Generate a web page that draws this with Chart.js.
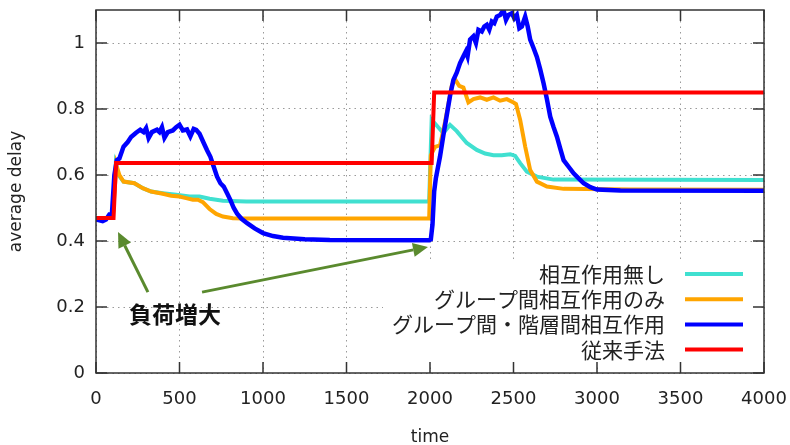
<!DOCTYPE html>
<html>
<head>
<meta charset="utf-8">
<script src="https://cdn.jsdelivr.net/npm/chart.js@4.4.1/dist/chart.umd.min.js"></script>
<style>
  html, body { margin: 0; padding: 0; background: #fff; }
</style>
</head>
<body>
<canvas id="chart" width="790" height="445"></canvas>
<script>
// series names (legend order)
const seriesNames = ['相互作用無し', 'グループ間相互作用のみ', 'グループ間・階層間相互作用', '従来手法'];

// 相互作用無し
const cyanT = [0, 100, 118, 135, 165, 230, 280, 330, 400, 480, 560, 620, 680, 760, 900, 1995, 2010, 2040, 2080, 2120, 2160, 2220, 2280, 2330, 2380, 2430, 2480, 2510, 2540, 2580, 2640, 2740, 4000];
const cyanV = [0.47, 0.47, 0.63, 0.60, 0.58, 0.575, 0.56, 0.55, 0.545, 0.54, 0.535, 0.535, 0.528, 0.522, 0.52, 0.52, 0.767, 0.75, 0.727, 0.752, 0.733, 0.697, 0.676, 0.665, 0.66, 0.66, 0.663, 0.658, 0.636, 0.61, 0.595, 0.586, 0.585];

// グループ間相互作用のみ
const orangeT = [0, 100, 122, 140, 165, 230, 280, 330, 400, 450, 500, 540, 580, 610, 640, 680, 720, 760, 820, 900, 1995, 2005, 2030, 2060, 2090, 2130, 2150, 2175, 2200, 2230, 2260, 2300, 2340, 2380, 2420, 2460, 2500, 2515, 2540, 2570, 2600, 2640, 2700, 2800, 3200, 4000];
const orangeV = [0.47, 0.47, 0.63, 0.60, 0.58, 0.575, 0.56, 0.55, 0.543, 0.537, 0.535, 0.53, 0.525, 0.525, 0.518, 0.497, 0.482, 0.474, 0.469, 0.468, 0.468, 0.66, 0.685, 0.69, 0.76, 0.87, 0.89, 0.87, 0.865, 0.82, 0.83, 0.835, 0.828, 0.835, 0.825, 0.83, 0.82, 0.815, 0.767, 0.686, 0.615, 0.58, 0.565, 0.558, 0.556, 0.555];

// グループ間・階層間相互作用
const blueT = [0, 40, 60, 80, 95, 110, 125, 140, 165, 190, 210, 240, 265, 285, 300, 315, 335, 365, 380, 395, 410, 430, 460, 480, 500, 520, 545, 565, 585, 600, 620, 645, 665, 685, 705, 725, 745, 765, 785, 805, 825, 845, 870, 905, 950, 1000, 1060, 1120, 1250, 1400, 1995,
  2005, 2015, 2025, 2035, 2060, 2080, 2100, 2120, 2140, 2160, 2180, 2200, 2215, 2225, 2240, 2260, 2275, 2290, 2310, 2325, 2340, 2355, 2370, 2385, 2400, 2420, 2440, 2455, 2470, 2490, 2505, 2520, 2535, 2550, 2570, 2585, 2600, 2620, 2640, 2660, 2680, 2700, 2720, 2740, 2760, 2780, 2800, 2830, 2860, 2890, 2920, 2960, 3000, 3140, 4000];
const blueV = [0.465, 0.46, 0.465, 0.48, 0.48, 0.60, 0.645, 0.65, 0.686, 0.70, 0.715, 0.728, 0.737, 0.73, 0.742, 0.712, 0.73, 0.737, 0.73, 0.745, 0.713, 0.73, 0.735, 0.745, 0.752, 0.735, 0.738, 0.717, 0.74, 0.737, 0.725, 0.697, 0.675, 0.655, 0.625, 0.595, 0.575, 0.565, 0.545, 0.524, 0.5, 0.483, 0.468, 0.454, 0.438, 0.424, 0.415, 0.41, 0.405, 0.403, 0.402,
  0.405, 0.45, 0.55, 0.59, 0.656, 0.72, 0.78, 0.84, 0.888, 0.91, 0.939, 0.96, 0.975, 0.96, 1.01, 1.02, 1.0, 1.04, 1.035, 1.05, 1.055, 1.04, 1.065, 1.06, 1.08, 1.085, 1.1, 1.07, 1.085, 1.09, 1.075, 1.085, 1.045, 1.05, 1.08, 1.05, 1.01, 0.985, 0.958, 0.92, 0.878, 0.83, 0.777, 0.745, 0.716, 0.68, 0.645, 0.625, 0.605, 0.59, 0.575, 0.563, 0.556, 0.553, 0.552];

// 従来手法
const redT = [0, 105, 120, 2010, 2025, 4000];
const redV = [0.47, 0.47, 0.636, 0.636, 0.85, 0.85];

// ticks
const xTicks = [0, 500, 1000, 1500, 2000, 2500, 3000, 3500, 4000];
const yTicks = [0, 0.2, 0.4, 0.6, 0.8, 1.0];

// annotation: label and arrow targets (time, delay)
const noteText = '負荷増大';
const notePos = [473, 0.179];
const arrowFrom = [[311, 0.245], [635, 0.245]];
const arrowTo = [[132, 0.427], [1988, 0.382]];

const colors = ['#40e0d0', '#ffa500', '#0000ff', '#ff0000'];
const jp = '"Noto Sans CJK JP", sans-serif';
const lat = '"DejaVu Sans", "Noto Sans CJK JP", sans-serif';

function pts(t, v) {
  return t.map((x, i) => ({ x: x, y: v[i] }));
}

const series = [pts(cyanT, cyanV), pts(orangeT, orangeV), pts(blueT, blueV), pts(redT, redV)];

// gnuplot-ish extras: key box, frame with inward ticks, arrows
const extras = {
  id: 'extras',
  afterDatasetsDraw(chart) {
    const { ctx, chartArea: a, scales: { x, y } } = chart;
    ctx.save();

    // key with opaque background
    ctx.fillStyle = '#fff';
    ctx.fillRect(a.left + 287, a.top + 250, a.right - a.left - 293, 104);
    ctx.font = '21px ' + jp;
    ctx.textAlign = 'right';
    ctx.textBaseline = 'middle';
    seriesNames.forEach((name, i) => {
      const ry = a.top + 264 + i * 25.2;
      ctx.fillStyle = '#222';
      ctx.fillText(name, a.right - 99, ry);
      ctx.strokeStyle = colors[i];
      ctx.lineWidth = 4;
      ctx.beginPath();
      ctx.moveTo(a.right - 79, ry);
      ctx.lineTo(a.right - 21, ry);
      ctx.stroke();
    });

    // frame
    ctx.strokeStyle = '#333';
    ctx.lineWidth = 1.5;
    ctx.strokeRect(a.left, a.top, a.right - a.left, a.bottom - a.top);

    // inward ticks, mirrored
    ctx.beginPath();
    xTicks.forEach(v => {
      const px = x.getPixelForValue(v);
      ctx.moveTo(px, a.bottom); ctx.lineTo(px, a.bottom - 11);
      ctx.moveTo(px, a.top); ctx.lineTo(px, a.top + 11);
    });
    yTicks.forEach(v => {
      const py = y.getPixelForValue(v);
      ctx.moveTo(a.left, py); ctx.lineTo(a.left + 11, py);
      ctx.moveTo(a.right, py); ctx.lineTo(a.right - 11, py);
    });
    ctx.stroke();

    // arrows
    ctx.strokeStyle = '#5a8a2e';
    ctx.fillStyle = '#5a8a2e';
    ctx.lineWidth = 3;
    arrowFrom.forEach((f, i) => {
      const x0 = x.getPixelForValue(f[0]), y0 = y.getPixelForValue(f[1]);
      const x1 = x.getPixelForValue(arrowTo[i][0]), y1 = y.getPixelForValue(arrowTo[i][1]);
      const ang = Math.atan2(y1 - y0, x1 - x0);
      const len = 15, half = 7;
      const bx = x1 - len * Math.cos(ang), by = y1 - len * Math.sin(ang);
      ctx.beginPath();
      ctx.moveTo(x0, y0);
      ctx.lineTo(bx, by);
      ctx.stroke();
      ctx.beginPath();
      ctx.moveTo(x1, y1);
      ctx.lineTo(bx + half * Math.sin(ang), by - half * Math.cos(ang));
      ctx.lineTo(bx - half * Math.sin(ang), by + half * Math.cos(ang));
      ctx.closePath();
      ctx.fill();
    });

    ctx.font = 'bold 23px ' + jp;
    ctx.textAlign = 'center';
    ctx.textBaseline = 'middle';
    ctx.fillStyle = '#111';
    ctx.fillText(noteText, x.getPixelForValue(notePos[0]), y.getPixelForValue(notePos[1]));

    ctx.restore();
  }
};

new Chart(document.getElementById('chart'), {
  type: 'line',
  data: {
    datasets: series.map((d, i) => ({
      label: seriesNames[i],
      data: d,
      borderColor: colors[i],
      backgroundColor: colors[i],
      borderWidth: i === 2 ? 4.5 : 4,
      pointRadius: 0,
      tension: 0,
      order: 3 - i
    }))
  },
  options: {
    responsive: false,
    animation: false,
    layout: { padding: { left: 0, right: 26, top: 10, bottom: 0 } },
    plugins: {
      legend: { display: false },
      tooltip: { enabled: false }
    },
    scales: {
      x: {
        type: 'linear',
        min: 0,
        max: 4000,
        afterBuildTicks: s => { s.ticks = xTicks.map(v => ({ value: v })); },
        afterFit: s => { s.height = 72; s.paddingLeft = 0; s.paddingRight = 0; },
        ticks: {
          font: { family: lat, size: 18 },
          color: '#222',
          padding: 16,
          maxRotation: 0,
          callback: v => String(v)
        },
        grid: { color: '#9a9a9a', lineWidth: 1, drawTicks: false },
        border: { display: false, dash: [1.5, 4] },
        title: {
          display: true,
          text: 'time',
          font: { family: lat, size: 17 },
          color: '#222',
          padding: { top: 0, bottom: -3 }
        }
      },
      y: {
        min: 0,
        max: 1.1,
        afterBuildTicks: s => { s.ticks = yTicks.map(v => ({ value: v })); },
        afterFit: s => { s.width = 96; s.paddingTop = 0; s.paddingBottom = 0; },
        ticks: {
          font: { family: lat, size: 18 },
          color: '#222',
          padding: 11,
          callback: v => String(+v.toFixed(1))
        },
        grid: { color: '#9a9a9a', lineWidth: 1, drawTicks: false },
        border: { display: false, dash: [1.5, 4] },
        title: {
          display: true,
          text: 'average delay',
          font: { family: lat, size: 17 },
          color: '#222',
          padding: { top: 6, bottom: 0 }
        }
      }
    }
  },
  plugins: [extras]
});
</script>
</body>
</html>
